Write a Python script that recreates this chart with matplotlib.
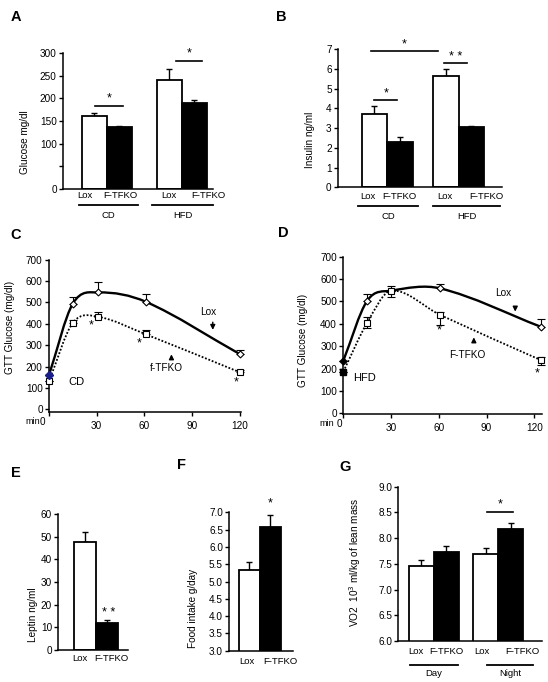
import numpy as np
import matplotlib
matplotlib.use('Agg')
import matplotlib.pyplot as plt
from matplotlib.path import Path
from matplotlib.patches import PathPatch

plt.rcParams['font.family'] = ['Liberation Sans', 'DejaVu Sans']

# ---------------- data ----------------
bar_groups = ['Lox', 'F-TFKO', 'Lox', 'F-TFKO']
diets = ['CD', 'HFD']
glucose = [161, 137, 240, 190]
glucose_err = [7, 3, 24, 7]
insulin = [3.70, 2.27, 5.63, 3.03]
insulin_err = [0.39, 0.30, 0.36, 0.08]

gtt_time_cd = [0, 15, 31, 61, 120]
gtt_cd_lox = [160, 494, 546, 502, 258]
gtt_cd_lox_err = [0, 32, 50, 35, 19]
gtt_cd_ko = [132, 404, 432, 350, 173]
gtt_cd_ko_err = [0, 13, 24, 20, 9]

gtt_time_hfd = [0, 15, 30, 61, 124]
gtt_hfd_lox = [235, 503, 548, 558, 387]
gtt_hfd_lox_err = [0, 30, 0, 19, 33]
gtt_hfd_ko = [186, 405, 548, 439, 238]
gtt_hfd_ko_err_lo = [0, 25, 27, 45, 22]
gtt_hfd_ko_err_hi = [0, 27, 22, 15, 15]

pair_groups = ['Lox', 'F-TFKO']
leptin = [47.5, 11.8]
leptin_err = [4.4, 1.3]
food = [5.34, 6.58]
food_err = [0.21, 0.33]

periods = ['Day', 'Night']
vo2 = [7.45, 7.74, 7.70, 8.17]
vo2_err = [0.12, 0.11, 0.11, 0.12]

# ---------------- figure ----------------
W, H = 548, 682
fig = plt.figure(figsize=(W / 100, H / 100), dpi=100)
FS = 7.2
LFS = 6.8


def axes_px(l, t, r, b):
    return fig.add_axes([l / W, 1 - b / H, (r - l) / W, (b - t) / H])


def ftext(x, y, s, **kw):
    kw.setdefault('fontsize', FS)
    kw.setdefault('ha', 'center')
    kw.setdefault('va', 'center')
    fig.text(x / W, 1 - y / H, s, **kw)


def style(ax):
    for s in ['top', 'right']:
        ax.spines[s].set_visible(False)
    for s in ['left', 'bottom']:
        ax.spines[s].set_linewidth(1.1)
    ax.tick_params(axis='y', direction='out', length=3, width=1, labelsize=FS, pad=1.5)
    ax.tick_params(axis='x', length=0, labelsize=FS, pad=3)


def bars(ax, xs, vals, errs, colors):
    ax.errorbar(xs, vals, yerr=[np.zeros(len(vals)), errs], fmt='none', ecolor='black',
                elinewidth=1.0, capsize=2, capthick=1.0, zorder=1)
    ax.bar(xs, vals, width=1.0, color=colors, edgecolor='black', linewidth=1.3, zorder=2)
    ax.set_xticks([])


def xlabels(ax, xs, labels, yfrac):
    tr = ax.get_xaxis_transform()
    for x, s in zip(xs, labels):
        ax.text(x, yfrac, s, transform=tr, ha='center', va='center', fontsize=LFS)


def sig(ax, x0, x1, y, ystar, txt='*'):
    ax.plot([x0, x1], [y, y], color='black', lw=1.2, clip_on=False)
    ax.text((x0 + x1) / 2, ystar, txt, ha='center', va='center', fontsize=9, clip_on=False)


def group(ax, x0, x1, yline, label, ytext):
    tr = ax.get_xaxis_transform()
    ax.plot([x0, x1], [yline, yline], transform=tr, color='black', lw=1.3, clip_on=False)
    ax.text((x0 + x1) / 2, ytext, label, transform=tr, ha='center', va='center', fontsize=LFS)


def smooth(ax, x, y, **kw):
    x = np.asarray(x, float)
    y = np.asarray(y, float)
    n = len(x)
    m = np.zeros(n)
    for i in range(n):
        if i == 0:
            m[i] = (y[1] - y[0]) / (x[1] - x[0])
        elif i == n - 1:
            m[i] = (y[-1] - y[-2]) / (x[-1] - x[-2])
        else:
            m[i] = (y[i + 1] - y[i - 1]) / (x[i + 1] - x[i - 1])
    verts = [(x[0], y[0])]
    codes = [Path.MOVETO]
    for i in range(n - 1):
        h = x[i + 1] - x[i]
        verts += [(x[i] + h / 3, y[i] + m[i] * h / 3),
                  (x[i + 1] - h / 3, y[i + 1] - m[i + 1] * h / 3),
                  (x[i + 1], y[i + 1])]
        codes += [Path.CURVE4] * 3
    ax.add_patch(PathPatch(Path(verts, codes), facecolor='none', **kw))


fill4 = ['white', 'black', 'white', 'black']

# ---------------- A ----------------
axA = axes_px(63, 53, 213, 189)
style(axA)
xa = np.array([0, 1, 3, 4]) + 1.25
bars(axA, xa, glucose, glucose_err, fill4)
axA.set_xlim(0, 6)
axA.set_ylim(0, 300)
axA.set_yticks([0, 50, 100, 150, 200, 250, 300], ['0', '', '100', '150', '200', '250', '300'])
xlabels(axA, [0.88, 2.3, 4.23, 5.8], bar_groups, -0.046)
sig(axA, 1.28, 2.39, 182, 199)
sig(axA, 4.5, 5.57, 282, 299)
group(axA, 0.64, 3.0, -16 / 136, diets[0], -26 / 136)
group(axA, 3.56, 6.0, -16 / 136, diets[1], -26 / 136)
ftext(25, 142, 'Glucose mg/dl', rotation=90)
ftext(16, 17, 'A', fontsize=10.5, fontweight='bold')

# ---------------- B ----------------
axB = axes_px(338, 49, 502, 187.3)
style(axB)
xb = np.array([0, 1, 2.8, 3.8]) + 1.43
bars(axB, xb, insulin, insulin_err, fill4)
axB.set_xlim(0, 6.43)
axB.set_ylim(0, 7)
axB.set_yticks(range(8))
xlabels(axB, [1.17, 2.39, 4.2, 5.8], bar_groups, -0.063)
sig(axB, 1.42, 2.33, 4.42, 4.74)
sig(axB, 4.16, 5.05, 6.29, 6.6, '* *')
sig(axB, 1.28, 3.93, 6.88, 7.22)
group(axB, 0.78, 3.14, -18.4 / 138.3, diets[0], -29.4 / 138.3)
group(axB, 3.73, 6.35, -18.4 / 138.3, diets[1], -29.4 / 138.3)
ftext(310, 140, 'Insulin ng/ml', rotation=90)
ftext(281, 17, 'B', fontsize=10.5, fontweight='bold')


# ---------------- C / D ----------------
def gtt(ax, t, lox, lox_err, ko, ko_lo, ko_hi):
    style(ax)
    ax.tick_params(axis='x', direction='out', length=3, width=1, pad=3)
    smooth(ax, t, lox, edgecolor='black', lw=1.7, zorder=3)
    smooth(ax, t, ko, edgecolor='black', lw=1.3, linestyle=(0, (1, 1)), zorder=3)
    ax.errorbar(t, lox, yerr=[np.zeros(len(t)), lox_err], fmt='none', ecolor='black',
                elinewidth=0.8, capsize=3, capthick=0.8, zorder=2, clip_on=False)
    ax.errorbar(t, ko, yerr=[ko_lo, ko_hi], fmt='none', ecolor='black',
                elinewidth=0.8, capsize=3, capthick=0.8, zorder=2, clip_on=False)
    ax.plot(t[1:], lox[1:], ls='none', marker='D', ms=3.5, mfc='white', mec='black', mew=0.8,
            zorder=4, clip_on=False)
    ax.plot(t[1:], ko[1:], ls='none', marker='s', ms=4, mfc='white', mec='black', mew=0.8,
            zorder=4, clip_on=False)
    return ax


axC = axes_px(49, 259.5, 49 + 121 * 1.59, 412.3)
gtt(axC, gtt_time_cd, gtt_cd_lox, gtt_cd_lox_err, gtt_cd_ko, np.zeros(5), gtt_cd_ko_err)
axC.plot(gtt_time_cd[:1], gtt_cd_ko[:1], ls='none', marker='s', ms=4, mfc='white', mec='black',
         mew=0.8, zorder=4, clip_on=False)
axC.plot(gtt_time_cd[:1], gtt_cd_lox[:1], ls='none', marker='D', ms=4.5, color='#1b1f8a',
         zorder=5, clip_on=False)
axC.set_xlim(0, 121)
axC.set_ylim(-14, 700)
axC.set_yticks(range(0, 701, 100))
axC.set_xticks([0, 30, 60, 90, 120], ['', '30', '60', '90', '120'])
axC.text(17, 126, 'CD', fontsize=8, ha='center', va='center')
axC.text(100, 457, 'Lox', fontsize=FS, ha='center', va='center')
axC.annotate('', xy=(103, 358), xytext=(103, 420),
             arrowprops=dict(arrowstyle='-|>', color='black', lw=1, mutation_scale=7))
axC.text(74, 191, 'f-TFKO', fontsize=FS, ha='center', va='center')
axC.annotate('', xy=(77, 270), xytext=(77, 222),
             arrowprops=dict(arrowstyle='-|>', color='black', lw=1, mutation_scale=7))
for sx, sy in [(26.7, 392), (56.4, 310), (118, 126)]:
    axC.text(sx, sy, '*', fontsize=9, ha='center', va='center')
ftext(33, 422, 'min', fontsize=6.5)
ftext(42.7, 422, '0')
ftext(10, 327, 'GTT Glucose (mg/dl)', rotation=90)
ftext(16, 235, 'C', fontsize=10.5, fontweight='bold')

axD = axes_px(343.3, 256.7, 343.3 + 125 * 1.592, 414.4)
gtt(axD, gtt_time_hfd, gtt_hfd_lox, gtt_hfd_lox_err, gtt_hfd_ko,
    gtt_hfd_ko_err_lo, gtt_hfd_ko_err_hi)
axD.plot(gtt_time_hfd[:1], gtt_hfd_lox[:1], ls='none', marker='D', ms=3.5, color='black',
         zorder=5, clip_on=False)
axD.plot(gtt_time_hfd[:1], gtt_hfd_ko[:1], ls='none', marker='s', ms=4, color='black',
         zorder=5, clip_on=False)
axD.set_xlim(0, 125)
axD.set_ylim(-5, 700)
axD.set_yticks(range(0, 701, 100))
axD.set_xticks([0, 30, 60, 90, 120], ['', '30', '60', '90', '120'])
axD.text(13.6, 156, 'HFD', fontsize=8, ha='center', va='center')
axD.text(100.6, 538, 'Lox', fontsize=FS, ha='center', va='center')
axD.annotate('', xy=(108, 442), xytext=(108, 485),
             arrowprops=dict(arrowstyle='-|>', color='black', lw=1, mutation_scale=7))
axD.text(78, 260, 'F-TFKO', fontsize=FS, ha='center', va='center')
axD.annotate('', xy=(82, 352), xytext=(82, 310),
             arrowprops=dict(arrowstyle='-|>', color='black', lw=1, mutation_scale=7))
for sx, sy in [(60.3, 369), (121.9, 180)]:
    axD.text(sx, sy, '*', fontsize=9, ha='center', va='center')
ftext(327, 424, 'min', fontsize=6.5)
ftext(339.3, 424, '0')
ftext(303, 340, 'GTT Glucose (mg/dl)', rotation=90)
ftext(283, 233, 'D', fontsize=10.5, fontweight='bold')

# ---------------- E ----------------
axE = axes_px(58.3, 514, 128.3, 650)
style(axE)
xe = np.array([0, 1]) + 1.2
bars(axE, xe, leptin, leptin_err, ['white', 'black'])
axE.set_xlim(0, 3.18)
axE.set_ylim(0, 60)
axE.set_yticks(range(0, 61, 10))
xlabels(axE, [1.0, 2.4], pair_groups, -0.059)
axE.text(2.3, 16.5, '* *', fontsize=9, ha='center', va='center')
ftext(33, 615, 'Leptin ng/ml', rotation=90)
ftext(16, 473, 'E', fontsize=10.5, fontweight='bold')

# ---------------- F ----------------
axF = axes_px(229.3, 512.3, 292.7, 650.7)
style(axF)
xf = np.array([0, 1]) + 0.94
bars(axF, xf, food, food_err, ['white', 'black'])
axF.set_xlim(0, 3.02)
axF.set_ylim(3.0, 7.0)
axF.set_yticks(np.arange(3.0, 7.01, 0.5), [f'{v:.1f}' for v in np.arange(3.0, 7.01, 0.5)])
xlabels(axF, [0.83, 2.41], pair_groups, -0.079)
axF.text(1.94, 7.25, '*', fontsize=9, ha='center', va='center', clip_on=False)
ftext(193, 608, 'Food intake g/day', rotation=90)
ftext(182, 465, 'F', fontsize=10.5, fontweight='bold')

# ---------------- G ----------------
axG = axes_px(398.3, 486.7, 541.7, 641)
style(axG)
xg = np.array([0, 1, 2.6, 3.6]) + 0.91
bars(axG, xg, vo2, vo2_err, fill4)
axG.set_xlim(0, 5.74)
axG.set_ylim(6.0, 9.0)
axG.set_yticks(np.arange(6.0, 9.01, 0.5), [f'{v:.1f}' for v in np.arange(6.0, 9.01, 0.5)])
xlabels(axG, [0.7, 1.92, 3.36, 4.95], bar_groups, -0.069)
sig(axG, 3.55, 4.58, 8.51, 8.65)
group(axG, 0.47, 2.39, -24 / 154.3, periods[0], -32.3 / 154.3)
group(axG, 3.55, 5.39, -24 / 154.3, periods[1], -32.3 / 154.3)
ftext(355, 562, 'VO2  10$^3$ ml/kg of lean mass', rotation=90)
ftext(345, 467, 'G', fontsize=10.5, fontweight='bold')

fig.savefig('out.png', dpi=100)
